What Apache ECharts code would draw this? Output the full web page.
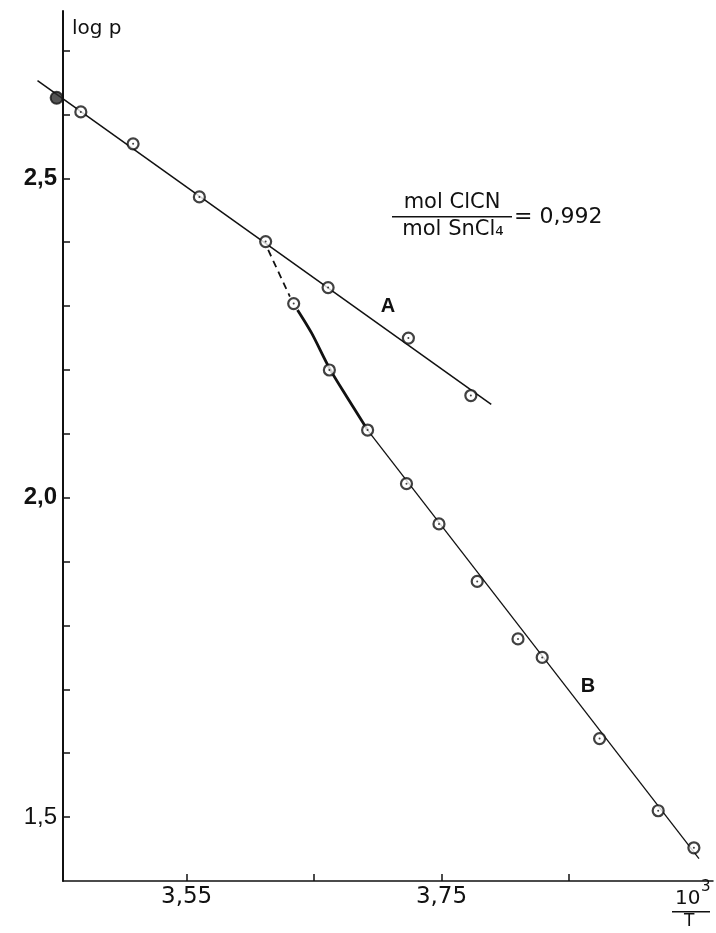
<!DOCTYPE html>
<html>
<head>
<meta charset="utf-8">
<script src="https://cdn.jsdelivr.net/npm/echarts@6/dist/echarts.min.js"></script>
<style>
  html, body { margin: 0; padding: 0; background: #fff; }
  #chart { width: 716px; height: 933px; }
</style>
</head>
<body>
<div id="chart"></div>
<script>
// tick values
const xTicks = [3.55, 3.65, 3.75, 3.85]
const xLabels = [3.55, 3.75]
const yTicks = [1.5, 1.6, 1.7, 1.8, 1.9, 2.0, 2.1, 2.2, 2.3, 2.4, 2.5, 2.6, 2.7]
const yLabels = [1.5, 2.0, 2.5]

// measured points (10^3/T, log p)
const filledPoints = [[3.448, 2.626]]
const pointsA = [
  [3.467, 2.604], [3.508, 2.554], [3.560, 2.471], [3.612, 2.401],
  [3.661, 2.329], [3.724, 2.250], [3.773, 2.160]
]
const pointsB = [
  [3.634, 2.304], [3.662, 2.200], [3.692, 2.106], [3.7225, 2.022],
  [3.748, 1.959], [3.778, 1.869], [3.810, 1.779], [3.829, 1.750],
  [3.874, 1.623], [3.920, 1.510], [3.948, 1.452]
]

// drawn lines
const lineA = [[3.433, 2.653], [3.789, 2.146]]
const curveB = [[3.637, 2.294], [3.648, 2.258], [3.662, 2.203], [3.676, 2.157], [3.692, 2.106]]
const lineB = [[3.692, 2.106], [3.952, 1.435]]
const dashB = [[3.614, 2.388], [3.631, 2.315]]

const ink = '#111'

const chart = echarts.init(document.getElementById('chart'))

// lines are drawn as custom polylines so they may run past the axis
const lineSeries = (data, width, dash, smooth) => ({
  type: 'custom',
  data: [0],
  clip: false,
  z: 2,
  renderItem: (params, api) => ({
    type: 'polyline',
    shape: { points: data.map((p) => api.coord(p)), smooth: smooth || 0 },
    style: { stroke: ink, lineWidth: width, fill: null, lineDash: dash || null }
  })
})

const option = {
  animation: false,
  backgroundColor: '#fff',
  grid: { left: 63, right: 3, top: 11, bottom: 52 },
  xAxis: {
    type: 'value',
    min: 3.453,
    max: 3.963,
    axisLine: { lineStyle: { color: ink, width: 1.5 } },
    axisTick: { inside: true, length: 7, customValues: xTicks, lineStyle: { color: ink, width: 1.5 } },
    axisLabel: {
      customValues: xLabels,
      formatter: (v) => v.toFixed(2).replace('.', ','),
      fontFamily: 'DejaVu Sans',
      fontSize: 23,
      color: ink,
      margin: 5
    },
    splitLine: { show: false }
  },
  yAxis: {
    type: 'value',
    min: 1.4,
    max: 2.762,
    axisLine: { show: true, lineStyle: { color: ink, width: 2 } },
    axisTick: { inside: true, length: 7, customValues: yTicks, lineStyle: { color: ink, width: 1.5 } },
    axisLabel: {
      customValues: yLabels,
      formatter: (v) => {
        const s = v.toFixed(1).replace('.', ',')
        return v > 1.9 ? '{b|' + s + '}' : '{n|' + s + '}'
      },
      margin: 6,
      rich: {
        b: { fontFamily: 'Liberation Sans', fontWeight: 'bold', fontSize: 24, color: ink },
        n: { fontFamily: 'Liberation Sans', fontSize: 24, color: ink }
      }
    },
    splitLine: { show: false }
  },
  series: [
    lineSeries(lineA, 1.5),
    lineSeries(curveB, 2.8, null, 0.3),
    lineSeries(lineB, 1.3),
    lineSeries(dashB, 1.8, [7, 5]),
    {
      type: 'scatter',
      data: pointsA.concat(pointsB),
      symbol: 'circle',
      symbolSize: 11,
      clip: false,
      itemStyle: { color: '#fff', borderColor: ink, borderWidth: 2.2 },
      z: 3
    },
    {
      type: 'scatter',
      data: pointsA.concat(pointsB),
      symbol: 'circle',
      symbolSize: 2,
      clip: false,
      itemStyle: { color: ink },
      z: 4
    },
    {
      type: 'scatter',
      data: filledPoints,
      symbol: 'circle',
      symbolSize: 12,
      clip: false,
      itemStyle: { color: '#2a2a2a', borderColor: ink, borderWidth: 2 },
      z: 4
    }
  ],
  graphic: [
    { type: 'text', left: 72, top: 19, style: { text: 'log p', font: '20px "DejaVu Sans"', fill: ink } },
    // x-axis name 10^3 / T
    { type: 'text', left: 675, top: 889, style: { text: '10', font: '20px "DejaVu Sans"', fill: ink } },
    { type: 'text', left: 701, top: 880, style: { text: '3', font: '15px "DejaVu Sans"', fill: ink } },
    { type: 'rect', shape: { x: 672, y: 911, width: 38, height: 1.5 }, style: { fill: ink } },
    { type: 'text', left: 684, top: 913, style: { text: 'T', font: '17px "DejaVu Sans"', fill: ink } },
    // ratio
    { type: 'text', x: 452, y: 203, style: { text: 'mol ClCN', font: '21px "DejaVu Sans"', fill: ink, align: 'center', verticalAlign: 'middle' } },
    { type: 'rect', shape: { x: 392, y: 216, width: 120, height: 1.5 }, style: { fill: ink } },
    { type: 'text', x: 453, y: 230, style: { text: 'mol SnCl₄', font: '21px "DejaVu Sans"', fill: ink, align: 'center', verticalAlign: 'middle' } },
    { type: 'text', x: 514, y: 217, style: { text: '= 0,992', font: '22px "DejaVu Sans"', fill: ink, align: 'left', verticalAlign: 'middle' } },
    // curve labels
    { type: 'text', x: 388, y: 306, style: { text: 'A', font: 'bold 20px "Liberation Sans"', fill: ink, align: 'center', verticalAlign: 'middle' } },
    { type: 'text', x: 588, y: 686, style: { text: 'B', font: 'bold 20px "Liberation Sans"', fill: ink, align: 'center', verticalAlign: 'middle' } }
  ]
}

chart.setOption(option)
</script>
</body>
</html>
